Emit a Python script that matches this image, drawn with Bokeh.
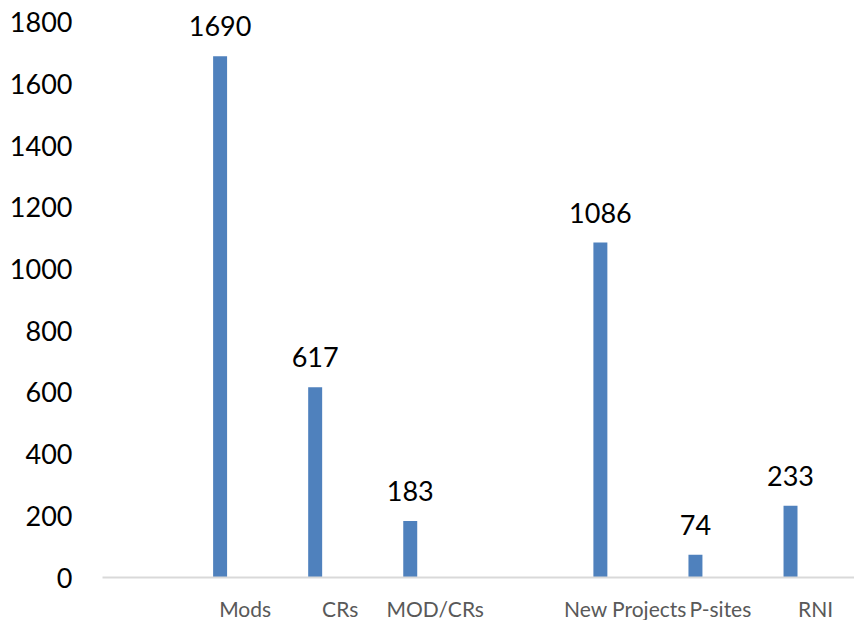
from bokeh.plotting import figure
from bokeh.models import Range1d, FixedTicker, ColumnDataSource
from bokeh.embed import file_html
from bokeh.resources import INLINE
from bokeh.core.properties import value

categories = ["", "Mods", "CRs", "MOD/CRs", " ", "New Projects", "P-sites", "RNI"]
counts = [None, 1690, 617, 183, None, 1086, 74, 233]
y_ticks = [0, 200, 400, 600, 800, 1000, 1200, 1400, 1600, 1800]

# bars sit left of each category slot centre (as in the reference)
bar_shift = -0.263
bar_w = 0.147

xs, tops, labels = [], [], []
for i, (c, v) in enumerate(zip(categories, counts)):
    if v is None:
        continue
    xs.append(i + 0.5 + bar_shift)
    tops.append(v)
    labels.append(str(v))
src = ColumnDataSource(dict(x=xs, top=tops, label=labels))

p = figure(frame_width=752, frame_height=577, output_backend="svg", toolbar_location=None,
           x_range=Range1d(0, 7.91), y_range=Range1d(0, 1871),
           min_border_left=102, min_border_right=0, min_border_top=0, min_border_bottom=43)

p.vbar(x="x", top="top", width=bar_w, bottom=0, source=src, color="#4f81bd", line_color=None)
p.text(x="x", y="top", text="label", source=src, text_align="center", text_baseline="alphabetic",
       y_offset=-30, text_font=value("Lato"), text_font_size="27px", text_color="#000000")

font = "Lato"
p.yaxis.ticker = FixedTicker(ticks=y_ticks)
p.yaxis.axis_line_color = None
p.yaxis.major_tick_line_color = None
p.yaxis.minor_tick_line_color = None
p.yaxis.major_tick_out = 0
p.yaxis.major_label_standoff = 30
p.yaxis.major_label_text_font = font
p.yaxis.major_label_text_font_size = "27px"
p.yaxis.major_label_text_color = "#000000"

p.xaxis.ticker = FixedTicker(ticks=[i + 0.5 for i in range(len(categories))])
p.xaxis.major_label_overrides = {i + 0.5: c for i, c in enumerate(categories)}
p.xaxis.axis_line_color = "#d9d9d9"
p.xaxis.axis_line_width = 2
p.xaxis.major_tick_line_color = None
p.xaxis.minor_tick_line_color = None
p.xaxis.major_tick_out = 0
p.xaxis.major_label_standoff = 18
p.xaxis.major_label_text_font = font
p.xaxis.major_label_text_font_size = "21px"
p.xaxis.major_label_text_color = "#595959"

p.xgrid.visible = False
p.ygrid.visible = False
p.outline_line_color = None

open("out.html", "w").write(file_html(p, INLINE))
